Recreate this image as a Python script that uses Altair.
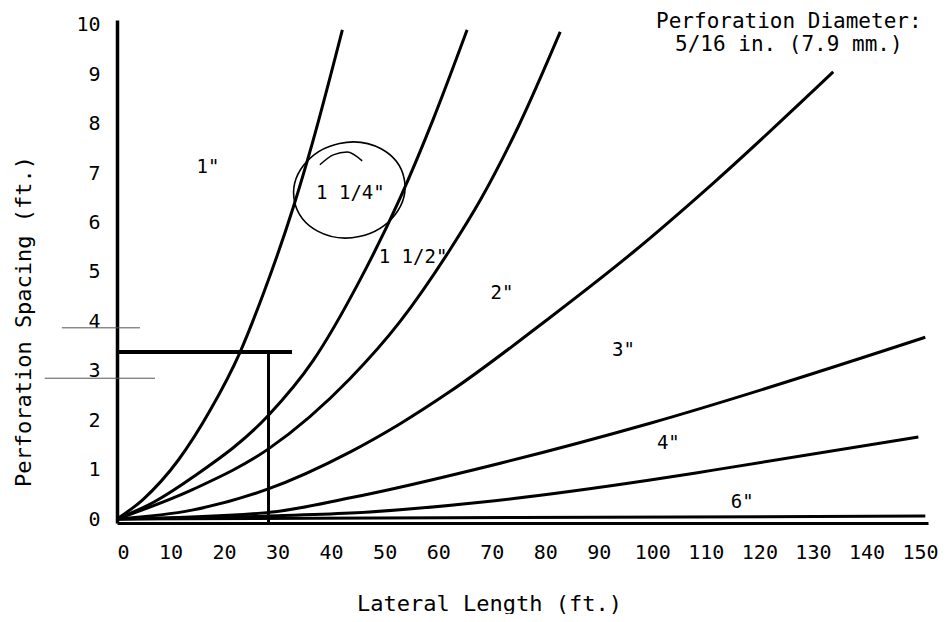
import altair as alt
import pandas as pd

FONT = "DejaVu Sans Mono"

# ---- curve data (Lateral Length ft, Perforation Spacing ft) ----
c1_x = [0, 4.9, 11.5, 17.4, 23.0, 27.3, 32.9, 36.6, 42.1]
c1_y = [0, 0.4, 1.2, 2.2, 3.38, 4.55, 6.3, 7.65, 9.9]

c114_x = [0, 7.0, 14.2, 28.3, 36.6, 45.4, 52.9, 59.1, 65.4]
c114_y = [0, 0.35, 0.85, 2.1, 3.2, 4.84, 6.5, 8.1, 9.9]

c112_x = [0, 14.2, 28.3, 43.6, 52.9, 62.2, 67.9, 75.0, 82.8]
c112_y = [0, 0.6, 1.42, 2.85, 4.0, 5.45, 6.46, 7.95, 9.86]

c2_x = [0, 14.0, 28.0, 43.6, 52.9, 62.2, 80.9, 96.4, 111.4, 133.8]
c2_y = [0, 0.18, 0.6, 1.36, 1.93, 2.58, 4.08, 5.4, 6.8, 9.05]

c3_x = [0, 28.0, 43.6, 71.6, 99.6, 151.0]
c3_y = [0, 0.13, 0.43, 1.13, 1.94, 3.68]

c4_x = [0, 28.0, 43.6, 67.9, 99.6, 111.4, 149.7]
c4_y = [0, 0.06, 0.12, 0.34, 0.79, 0.99, 1.66]

c6_x = [0, 75.0, 151.0]
c6_y = [0, 0.03, 0.06]

curves = [("1\"", c1_x, c1_y), ("1 1/4\"", c114_x, c114_y), ("1 1/2\"", c112_x, c112_y),
          ("2\"", c2_x, c2_y), ("3\"", c3_x, c3_y), ("4\"", c4_x, c4_y), ("6\"", c6_x, c6_y)]

# ---- curve labels ----
label_text = ["1\"", "1 1/4\"", "1 1/2\"", "2\"", "3\"", "4\"", "6\""]
label_x = [17.0, 43.6, 55.3, 71.9, 94.6, 103.0, 116.8]
label_y = [7.12, 6.6, 5.30, 4.57, 3.42, 1.54, 0.34]

# ---- reading lines (design example) ----
read_y = [3.38]
read_x0 = [0]
read_x1 = [32.7]
drop_x = [28.3]
drop_y0 = [3.38]
drop_y1 = [-0.12]

# hand-drawn marks
dash_y = [3.87, 2.85]
dash_x0 = [-10.3, -13.5]
dash_x1 = [4.3, 7.1]
circle_x = [43.4]
circle_y = [6.66]
squig_x = [37.9, 40.4, 43.0, 45.8]
squig_y = [7.17, 7.37, 7.43, 7.25]

x_ticks = list(range(0, 151, 10))
y_ticks = list(range(0, 11))

title_lines = ["Perforation Diameter:", "5/16 in. (7.9 mm.)"]
title_x = [125.5, 125.5]
title_y = [10.06, 9.6]

rows = []
for name, xs, ys in curves:
    for i, (a, b) in enumerate(zip(xs, ys)):
        rows.append({"series": name, "x": a, "y": b, "i": i})
curve_df = pd.DataFrame(rows)

xscale = alt.Scale(domain=[0, 151.5], nice=False, zero=False)
yscale = alt.Scale(domain=[-0.08, 10.1], nice=False, zero=False)

x_axis = alt.Axis(values=x_ticks, title="Lateral Length (ft.)", grid=False, ticks=False,
                  domainColor="black", domainWidth=3, labelFont=FONT, labelFontSize=20,
                  labelColor="black", labelPadding=19, titleFont=FONT, titleFontSize=22,
                  titleFontWeight="normal", titleColor="black", titleX=372, titleY=80,
                  titleBaseline="middle")
y_axis = alt.Axis(values=y_ticks, title="Perforation Spacing (ft.)", grid=False, ticks=False,
                  domainColor="black", domainWidth=3.5, labelFont=FONT, labelFontSize=20,
                  labelColor="black", labelPadding=17, titleFont=FONT, titleFontSize=22,
                  titleFontWeight="normal", titleColor="black", titleX=-94, titleY=301,
                  titleBaseline="middle", titleAngle=270)

lines = alt.Chart(curve_df).mark_line(color="black", strokeWidth=3, interpolate="monotone").encode(
    x=alt.X("x:Q", scale=xscale, axis=x_axis),
    y=alt.Y("y:Q", scale=yscale, axis=y_axis),
    detail="series:N",
    order="i:Q",
)

lab_df = pd.DataFrame({"t": label_text, "x": label_x, "y": label_y})
labels = alt.Chart(lab_df).mark_text(font=FONT, fontSize=19, color="black").encode(
    x=alt.X("x:Q", scale=xscale), y=alt.Y("y:Q", scale=yscale), text="t:N")

hrule_df = pd.DataFrame({"y": read_y, "x0": read_x0, "x1": read_x1})
hrule = alt.Chart(hrule_df).mark_rule(color="black", strokeWidth=4).encode(
    x=alt.X("x0:Q", scale=xscale), x2="x1:Q", y=alt.Y("y:Q", scale=yscale))

vrule_df = pd.DataFrame({"x": drop_x, "y0": drop_y0, "y1": drop_y1})
vrule = alt.Chart(vrule_df).mark_rule(color="black", strokeWidth=3).encode(
    x=alt.X("x:Q", scale=xscale), y=alt.Y("y0:Q", scale=yscale), y2="y1:Q")

dash_df = pd.DataFrame({"y": dash_y, "x0": dash_x0, "x1": dash_x1})
dashes = alt.Chart(dash_df).mark_rule(color="#555555", strokeWidth=1).encode(
    x=alt.X("x0:Q", scale=xscale), x2="x1:Q", y=alt.Y("y:Q", scale=yscale))

circ_df = pd.DataFrame({"x": circle_x, "y": circle_y})
circle = alt.Chart(circ_df).mark_point(
    shape="M -1 0 A 1 0.85 0 1 1 1 0 A 1 0.85 0 1 1 -1 0 Z",
    size=12544, filled=False, stroke="black", strokeWidth=1.6, angle=348, opacity=1,
).encode(x=alt.X("x:Q", scale=xscale), y=alt.Y("y:Q", scale=yscale))

sq_df = pd.DataFrame({"x": squig_x, "y": squig_y, "i": list(range(len(squig_x)))})
squig = alt.Chart(sq_df).mark_line(color="black", strokeWidth=1.5, interpolate="monotone").encode(
    x=alt.X("x:Q", scale=xscale), y=alt.Y("y:Q", scale=yscale), order="i:Q")

tdf = pd.DataFrame({"t": title_lines, "x": title_x, "y": title_y})
title = alt.Chart(tdf).mark_text(font=FONT, fontSize=21, color="black").encode(
    x=alt.X("x:Q", scale=xscale), y=alt.Y("y:Q", scale=yscale), text="t:N")

chart = alt.layer(lines, hrule, vrule, dashes, circle, squig, labels, title).properties(
    width=811, height=503,
    autosize=alt.AutoSizeParams(type="none"),
    padding={"left": 109, "top": 12, "right": 10, "bottom": 91},
    background="white",
).configure_view(stroke=None)

chart.save("out.html", embed_options={"renderer": "svg", "actions": False})
